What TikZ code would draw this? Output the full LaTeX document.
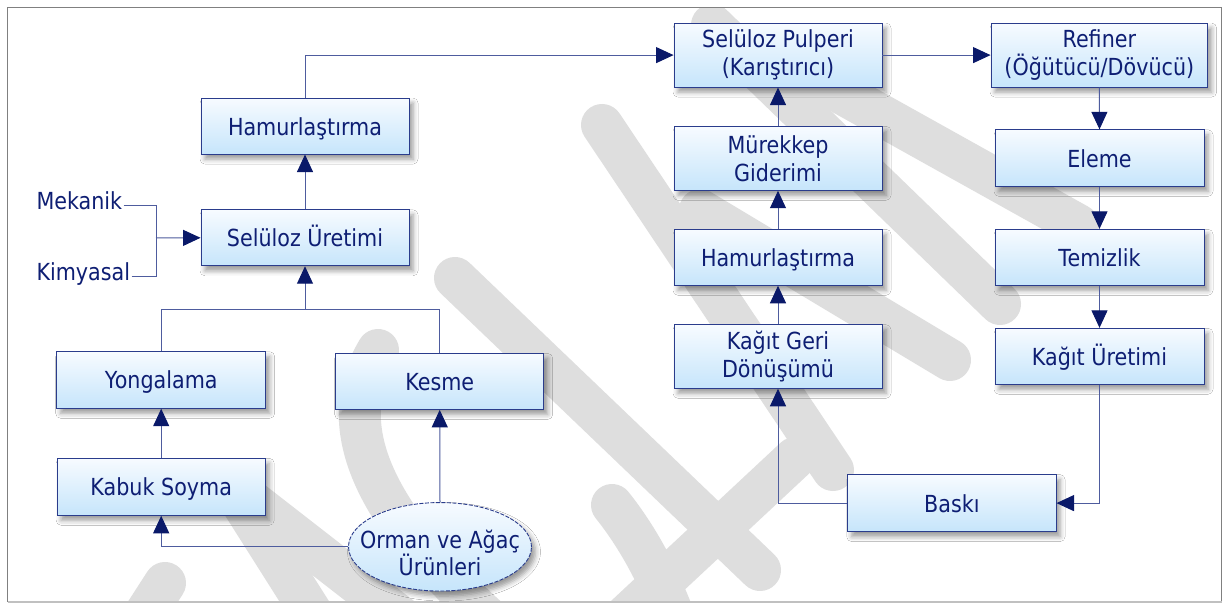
\documentclass[tikz,border=0pt]{standalone}
\usepackage{fontspec}
\setmainfont{DejaVu Sans}[FakeStretch=0.88]
\usetikzlibrary{arrows.meta,shadows.blur,shapes.geometric}

\definecolor{txt}{RGB}{14,30,115}
\definecolor{edge}{RGB}{42,60,140}
\definecolor{wire}{RGB}{78,92,158}
\definecolor{tip}{RGB}{10,25,105}
\definecolor{topc}{RGB}{247,251,255}
\definecolor{botc}{RGB}{198,229,251}
\definecolor{mark}{RGB}{222,222,222}
\definecolor{framec}{RGB}{128,128,128}

\tikzset{
  procbox/.style={rectangle, draw=edge, line width=0.9pt,
    top color=topc, bottom color=botc, minimum width=208pt,
    minimum height=57pt, inner sep=0pt, text=txt, align=center,
    font=\fontsize{23.5}{28}\selectfont,
    blur shadow={shadow xshift=4pt, shadow yshift=-5pt,
      shadow blur radius=5pt, shadow opacity=40}},
  oneline/.style={text height=17.9pt, text depth=0pt},
  sourcebox/.style={procbox, ellipse, dash pattern=on 4pt off 1.5pt,
    minimum width=183pt, minimum height=88.5pt},
  sourcetext/.style={inner sep=0pt, text=txt, align=center,
    font=\fontsize{23.5}{24}\selectfont},
  sidelabel/.style={inner sep=0pt, outer sep=1.5pt, text=txt,
    font=\fontsize{23.5}{28}\selectfont},
  wire/.style={draw=wire, line width=1pt},
  flow/.style={wire, -{Triangle[length=17.5pt,width=16pt,color=tip,fill=tip]}},
  stroke/.style={draw=mark, line width=42pt, line cap=round, line join=round}
}

\begin{document}
\begin{tikzpicture}[x=1pt,y=-1pt]
\useasboundingbox (0,0) rectangle (1224,604);
\fill[white] (0,0) rectangle (1224,604);

% background lettering
\begin{scope}
\clip (8,8) rectangle (1221,602);
\draw[stroke] (165,583) -- (125,645);
\draw[stroke] (242,503) -- (335,650);
\draw[stroke] (250,500) -- (430,640);
\draw[stroke] (378,350) .. controls (330,430) and (380,520) .. (490,620);
\draw[stroke] (455,278) -- (760,570);
\draw[stroke] (602,125) -- (833,470);
\draw[stroke] (800,70) -- (1078,225);
\draw[stroke] (712,25) -- (1000,304);
\draw[stroke] (700,210) -- (950,360);
\draw[stroke] (600,640) -- (795,458);
\draw[stroke] (612,505) .. controls (640,540) and (660,580) .. (675,620);
\end{scope}

% frame
\draw[framec, line width=1.3pt] (7.5,602) -- (7.5,7.5) -- (1221.5,7.5) -- (1221.5,602);
\draw[framec!50, line width=1.3pt] (7.5,602) -- (1221.5,602);

% pulp production branch
\node[procbox, oneline, minimum height=56pt] (hamL) at (305,126.1) {Hamurlaştırma};
\node[procbox, oneline, minimum height=56pt] (selU) at (305,237.8) {Selüloz Üretimi};
\node[procbox, oneline, minimum width=209pt, minimum height=56.5pt] (yong) at (161.2,380) {Yongalama};
\node[procbox, oneline, minimum height=56pt] (kesme) at (439.7,381.4) {Kesme};
\node[procbox, oneline] (kabuk) at (161.2,486.8) {Kabuk Soyma};
\node[sourcebox] (orman) at (440,546.8) {};
\node[sourcetext] (ormanT) at (440,553) {Orman ve Ağaç\\Ürünleri};

\node[sidelabel, anchor=base west] (mek) at (35,210) {Mekanik};
\node[sidelabel, anchor=base west] (kim) at (35,280) {Kimyasal};

% recycling branch
\node[procbox, minimum height=64pt] (pulp) at (778,55.1) {Selüloz Pulperi\\(Karıştırıcı)};
\node[procbox, minimum height=64pt] (murek) at (778,158.3) {Mürekkep\\Giderimi};
\node[procbox, oneline, minimum height=56pt] (hamR) at (778,257.3) {Hamurlaştırma};
\node[procbox, minimum height=63.6pt] (kagit) at (778,356.5) {Kağıt Geri\\Dönüşümü};

% paper line
\node[procbox, minimum width=216.6pt, minimum height=64pt] (refi) at (1099.3,55.1) {Refiner\\(Öğütücü/Dövücü)};
\node[procbox, oneline, minimum width=209pt, minimum height=56.6pt] (eleme) at (1099.5,158.1) {Eleme};
\node[procbox, oneline, minimum width=209pt, minimum height=56pt] (temiz) at (1099.5,257.3) {Temizlik};
\node[procbox, oneline, minimum width=209pt, minimum height=56pt] (kuret) at (1099.5,356.3) {Kağıt Üretimi};
\node[procbox, oneline, minimum width=208.3pt] (baski) at (951.9,503.1) {Baskı};

% junction points
\coordinate (mj) at (156,238);
\coordinate (tj) at (305,309.3);

% connectors, left part
\draw[wire] ([yshift=-4pt]mek.east) -| (mj);
\draw[wire] ([yshift=-3pt]kim.east) -| (mj);
\draw[flow] (mj) -- (selU.west);
\draw[flow] (selU.north) -- (hamL.south);
\draw[flow] (hamL.north) |- (pulp.west);
\draw[wire] (yong.north) |- (tj);
\draw[wire] (kesme.north) |- (tj);
\draw[flow] (tj) -- (selU.south);
\draw[flow] (kabuk.north) -- (yong.south);
\draw[flow] (orman.west) -| (kabuk.south);
\draw[flow] (orman.north) -- (kesme.south);

% connectors, right part
\draw[flow] (pulp.east) -- (refi.west);
\draw[flow] (refi.south) -- (eleme.north);
\draw[flow] (eleme.south) -- (temiz.north);
\draw[flow] (temiz.south) -- (kuret.north);
\draw[flow] (kuret.south) |- (baski.east);
\draw[flow] (baski.west) -| (kagit.south);
\draw[flow] (kagit.north) -- (hamR.south);
\draw[flow] (hamR.north) -- (murek.south);
\draw[flow] (murek.north) -- (pulp.south);
\end{tikzpicture}
\end{document}
